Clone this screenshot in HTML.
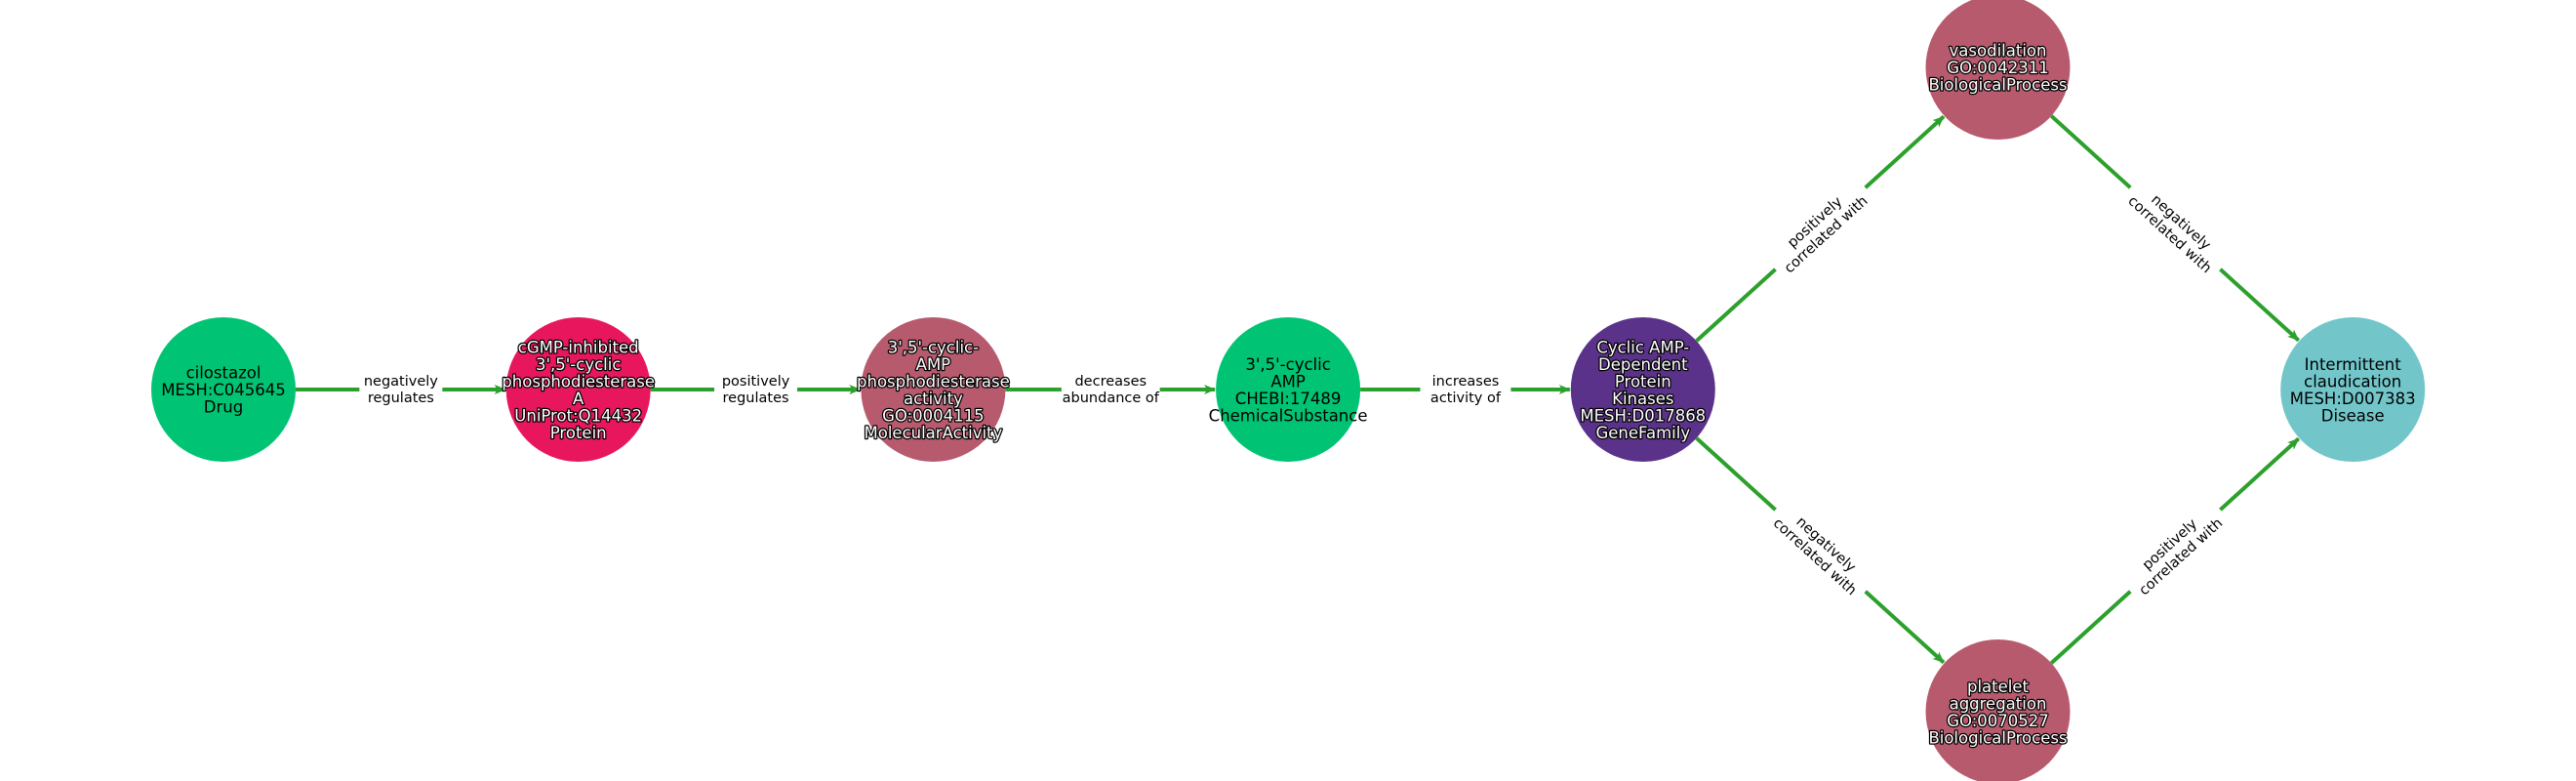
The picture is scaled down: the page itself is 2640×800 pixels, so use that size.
<!DOCTYPE html>
<html><head><meta charset="utf-8"><style>
html,body{margin:0;padding:0;background:#fff;}
svg{display:block;font-family:"DejaVu Sans","Liberation Sans",sans-serif;}
</style></head><body>
<svg id="g" width="2640" height="800" viewBox="0 0 2640 800" xmlns="http://www.w3.org/2000/svg">
<defs><marker id="ah" markerWidth="12" markerHeight="10" refX="11" refY="5" orient="auto" markerUnits="userSpaceOnUse"><path d="M0,0 L12,5 L0,10 L3,5 Z" fill="#2ca02c"/></marker></defs>
<g id="edges"></g><g id="nodes"></g><g id="elabels"></g>
</svg>
<script>
const nodeIds = ["cilostazol","pde3a","pde-activity","camp","pka","vasodilation","platelet","claudication"];
const nodeLabels = [
 ["cilostazol","MESH:C045645","Drug"],
 ["cGMP-inhibited","3',5'-cyclic","phosphodiesterase","A","UniProt:Q14432","Protein"],
 ["3',5'-cyclic-","AMP","phosphodiesterase","activity","GO:0004115","MolecularActivity"],
 ["3',5'-cyclic","AMP","CHEBI:17489","ChemicalSubstance"],
 ["Cyclic AMP-","Dependent","Protein","Kinases","MESH:D017868","GeneFamily"],
 ["vasodilation","GO:0042311","BiologicalProcess"],
 ["platelet","aggregation","GO:0070527","BiologicalProcess"],
 ["Intermittent","claudication","MESH:D007383","Disease"]
];
const nodeCol = [0,1,2,3,4,5,5,6];
const nodeRow = [0,0,0,0,0,-1,1,0];
const nodeColors = ["#00c473","#e8175d","#b85a6e","#00c473","#5b3289","#b85a6e","#b85a6e","#72c6ca"];
const nodeOutlined = [false,true,true,false,true,true,true,false];
const edgeSrc = [0,1,2,3,4,4,5,6];
const edgeDst = [1,2,3,4,5,6,7,7];
const edgeLabels = [["negatively","regulates"],["positively","regulates"],["decreases","abundance of"],["increases","activity of"],["positively","correlated with"],["negatively","correlated with"],["negatively","correlated with"],["positively","correlated with"]];

const R=74, NS="http://www.w3.org/2000/svg";
const xOf=c=>229+c*363.7, yOf=r=>399+r*330;
const E=document.getElementById('edges'),N=document.getElementById('nodes'),L=document.getElementById('elabels');
function mk(t,a){const e=document.createElementNS(NS,t);for(const k in a)e.setAttribute(k,a[k]);return e;}
edgeSrc.forEach((s,i)=>{
 const d=edgeDst[i];
 const x1=xOf(nodeCol[s]),y1=yOf(nodeRow[s]),x2=xOf(nodeCol[d]),y2=yOf(nodeRow[d]);
 const dx=x2-x1,dy=y2-y1,len=Math.hypot(dx,dy),ux=dx/len,uy=dy/len;
 const ln=mk('line',{x1:x1+ux*R,y1:y1+uy*R,x2:x2-ux*(R+1),y2:y2-uy*(R+1),stroke:'#2ca02c','stroke-width':4,'marker-end':'url(#ah)'});
 
 
 E.appendChild(ln);
 const mx=(x1+x2)/2,my=(y1+y2)/2,ang=Math.atan2(dy,dx)*180/Math.PI;
 const g=mk('g',{transform:`translate(${mx},${my}) rotate(${ang})`});
 
 
 const w=edgeLabels[i].reduce((m,t)=>Math.max(m,t.length),0)*7.9+6;
 g.appendChild(mk('rect',{x:-w/2,y:-22,width:w,height:44,fill:'#fff'}));
 edgeLabels[i].forEach((t,k)=>{const tx=mk('text',{x:0,y:-4+k*17,'text-anchor':'middle','font-size':14.5,fill:'#000'});tx.textContent=t;g.appendChild(tx);});
 L.appendChild(g);
});
nodeIds.forEach((id,i)=>{
 const cx=xOf(nodeCol[i]),cy=yOf(nodeRow[i]);
 const g=mk('g',{});
 
 
 g.appendChild(mk('circle',{cx,cy,r:R,fill:nodeColors[i]}));
 const lines=nodeLabels[i],lh=17.5,y0=cy-(lines.length-1)*lh/2+6;
 lines.forEach((t,k)=>{
  const a={x:cx,y:y0+k*lh,'text-anchor':'middle','font-size':16.5,fill:nodeOutlined[i]?'#fff':'#000'};
  if(nodeOutlined[i]){a.stroke='#000';a['stroke-width']=2.5;a['paint-order']='stroke';a['stroke-linejoin']='round';}
  const tx=mk('text',a);tx.textContent=t;g.appendChild(tx);
 });
 N.appendChild(g);
});
</script>
</body></html>
